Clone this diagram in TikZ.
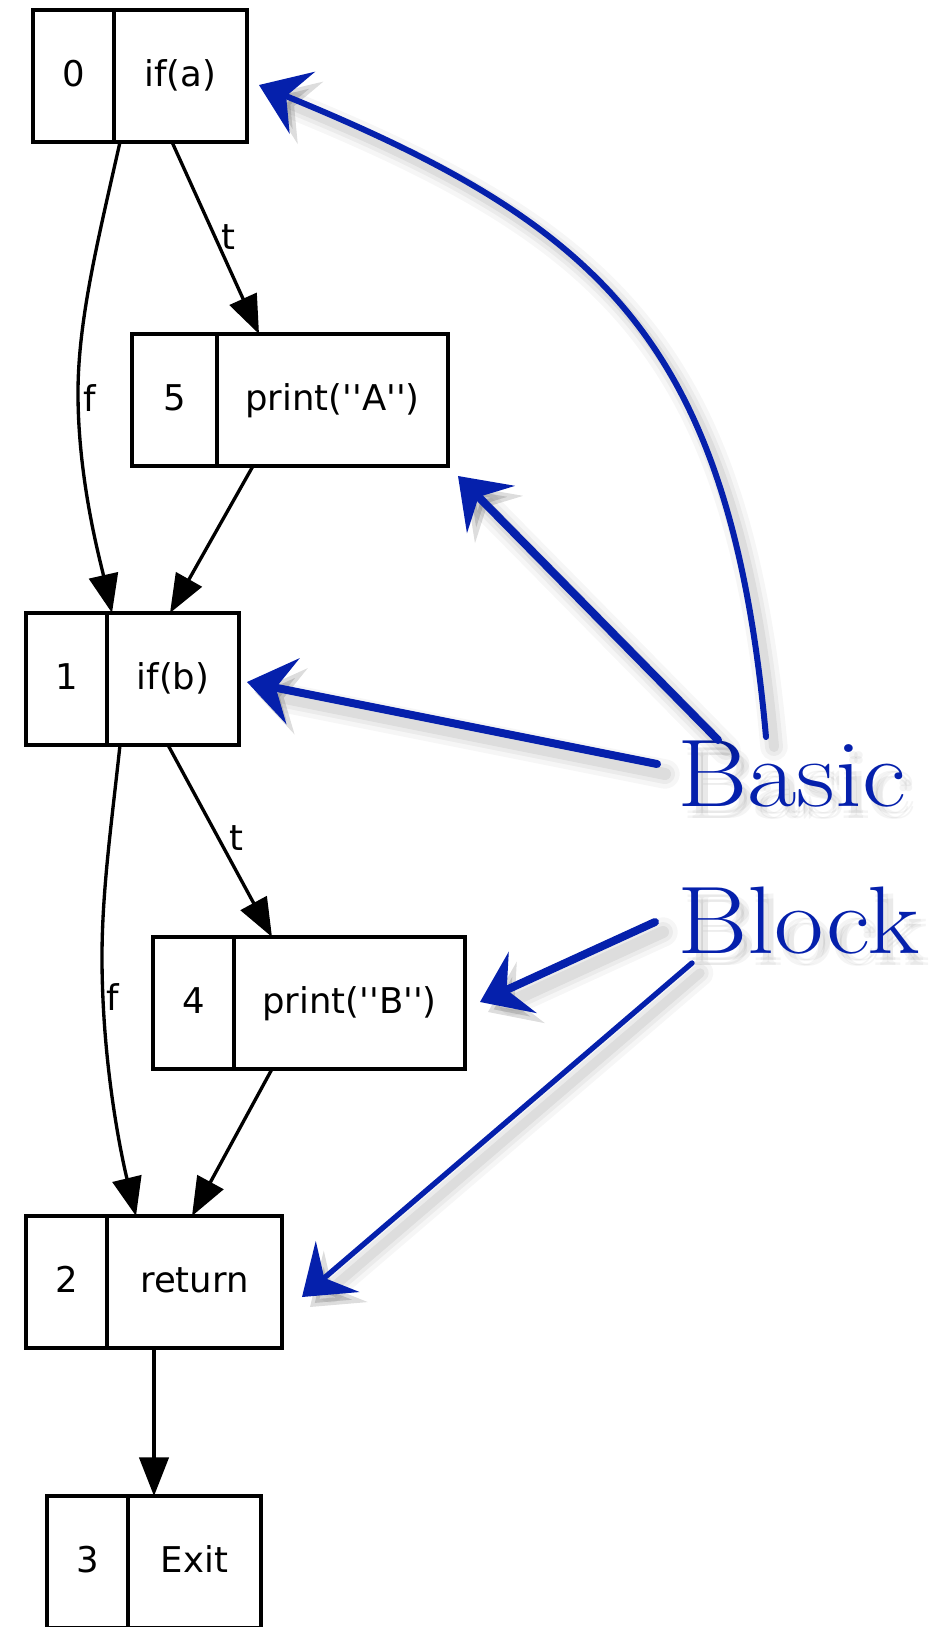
\documentclass[tikz,border=0pt]{standalone}
\usepackage{fontspec}
\newfontfamily\dvs{DejaVu Sans}[Ligatures=TeXOff]
\usetikzlibrary{arrows.meta,calc,fit}
\definecolor{handblue}{RGB}{5,32,172}
\tikzset{
  cell/.style={draw, line width=2.6pt, inner sep=0pt, outer sep=0pt},
  txt/.style={font=\dvs\fontsize{26.6}{32}\selectfont, inner sep=0pt},
  cfgedge/.style={line width=2.5pt, -{Triangle[length=29pt,width=22pt]}},
  handtip/.style={-{Stealth[length=35pt,width=50pt,inset=13pt]}},
  handline/.style={draw=handblue, line cap=round, handtip},
  shadowline/.style={draw=black, line cap=round, handtip},
  handtxt/.style={font=\fontsize{72}{80}\selectfont, inner sep=0pt, text=handblue},
}
\newcommand\rec[8]{%
  \node[cell, fit={(#2,#5) (#4,#6)}] (#1) {};
  \node[cell, fit={(#2,#5) (#3,#6)}] (#1id) {};
  \node[txt, anchor=base] (#1l) at ($(#1id.center)+(0,10)$) {#7};
  \node[txt, anchor=base] (#1r) at ($(#1id.east)!0.5!(#1.east)+(0,10)$) {#8};
}
\newcommand\handarrow[2]{%
  \begin{scope}[shift={(8,10)}]
    \draw[shadowline, opacity=0.035, line width=#1+16pt] #2;
    \draw[shadowline, opacity=0.045, line width=#1+9pt] #2;
    \draw[shadowline, opacity=0.06, line width=#1+3pt] #2;
  \end{scope}
  \draw[handline, line width=#1] #2;
}
\begin{document}
\begin{tikzpicture}[x=0.75pt,y=-0.75pt]
\useasboundingbox[fill=white] (0,0) rectangle (930,1627);

% records
\rec{n0}{33}{114}{247}{10}{142}{0}{if(a)}
\rec{n5}{132}{217}{448}{334}{466}{5}{print(''A'')}
\rec{n1}{26}{107}{239}{613}{745}{1}{if(b)}
\rec{n4}{153}{234}{465}{937}{1069}{4}{print(''B'')}
\rec{n2}{26}{107}{282}{1216}{1348}{2}{return}
\rec{n3}{47}{128}{261}{1496}{1628}{3}{Exit}

% control-flow edges
\draw[cfgedge] ($(n0.south west)+(139,0)$) -- ($(n5.north west)+(127,0)$);
\draw[cfgedge] ($(n0.south west)+(87,0)$) .. controls (98,240) and (78,320) .. (78,393)
   .. controls (78,480) and (100,560) .. ($(n1.north west)+(86,0)$);
\draw[cfgedge] ($(n5.south west)+(121,0)$) -- ($(n1.north west)+(144,0)$);
\draw[cfgedge] ($(n1.south west)+(142,0)$) -- ($(n4.north west)+(119,0)$);
\draw[cfgedge] ($(n1.south west)+(94,0)$) .. controls (112,820) and (102,890) .. (102,957)
   .. controls (102,1060) and (120,1150) .. ($(n2.north west)+(110,0)$);
\draw[cfgedge] ($(n4.south west)+(119,0)$) -- ($(n2.north west)+(166,0)$);
\draw[cfgedge] ($(n2.south west)+(128,0)$) -- ($(n3.north west)+(107,0)$);

% edge labels
\node[txt] (lt1) at (228,237) {t};
\node[txt] (lf1) at (90,398) {f};
\node[txt] (lt2) at (236,838) {t};
\node[txt] (lf2) at (113,997) {f};

% soft shadow of the hand-written annotation
\foreach \dx/\dy in {5/7,10/7,5/12,10/12} {
  \node[handtxt, text=black, opacity=0.045, anchor=base west] at (677+\dx,806+\dy) {\scalebox{1.12}[1]{Basic}};
  \node[handtxt, text=black, opacity=0.045, anchor=base west] at (677+\dx,953+\dy) {\scalebox{1.12}[1]{Block}};
}
\node[handtxt, anchor=base west] (basic) at (677,806) {\scalebox{1.12}[1]{Basic}};
\node[handtxt, anchor=base west] (block) at (677,953) {\scalebox{1.12}[1]{Block}};

\handarrow{4.5pt}{(766,737) .. controls (730,337) and (598,224) .. (259,85)}
\handarrow{6pt}{(718,740) -- (458,476)}
\handarrow{6pt}{(657,764) -- (247,682)}
\handarrow{6pt}{(655,922) -- (480,1002)}
\handarrow{4pt}{(692,963) -- (302,1297)}
\end{tikzpicture}
\end{document}
